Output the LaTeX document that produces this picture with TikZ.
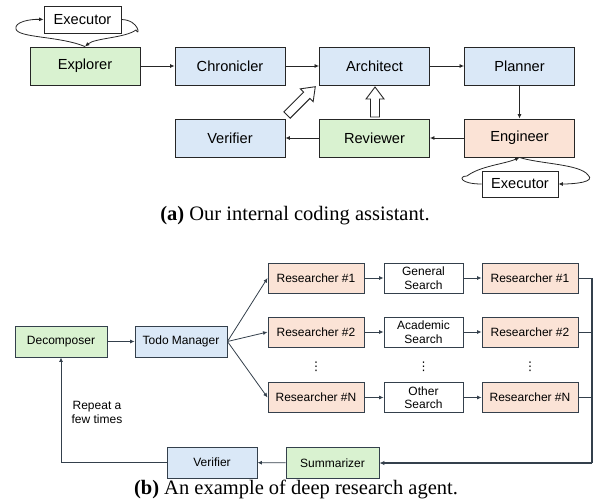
\documentclass[tikz,border=0pt]{standalone}
\usepackage{fontspec}
\setmainfont{Liberation Sans}
\newfontfamily\capfont{Liberation Serif}
\newfontfamily\symfont{DejaVu Sans}
\usetikzlibrary{arrows.meta,calc}
\definecolor{cgreen}{HTML}{D9F2D0}
\definecolor{cblue}{HTML}{DAE8F7}
\definecolor{corange}{HTML}{FBE3D6}
\definecolor{edgeA}{HTML}{262626}
\definecolor{edgeB}{HTML}{34404C}
\tikzset{
  boxA/.style={draw=edgeA,line width=0.9pt,minimum width=110pt,minimum height=38pt,inner sep=0pt,font=\fontsize{14.6}{16}\selectfont},
  boxB/.style={draw=edgeB,line width=0.9pt,minimum height=30pt,inner sep=0pt,align=center,font=\fontsize{12}{13.5}\selectfont},
  conn/.style={draw=edgeA,line width=0.8pt,-{Latex[length=4.5pt,width=4pt]}},
  connB/.style={draw=edgeB,line width=0.8pt,-{Latex[length=4.5pt,width=4pt]}},
  dotsnode/.style={font=\symfont\fontsize{12}{12}\selectfont,inner sep=0pt},
  pics/hollowarrow/.style={code={
    \draw[edgeA,fill=white,line width=0.9pt,line join=miter]
      (0,-4.5) -- (#1-12,-4.5) -- (#1-12,-9) -- (#1,0) -- (#1-12,9) -- (#1-12,4.5) -- (0,4.5) -- cycle;}},
  caption/.style={font=\capfont\fontsize{20.5}{22}\selectfont,anchor=base}
}
\begin{document}
\begin{tikzpicture}[x=1pt,y=-1pt]
\useasboundingbox (0,0) rectangle (594,503);
% ---------- (a) ----------
\node[boxA,fill=cgreen] (explorer) at (85,66) {Explorer};
\node[boxA,fill=cblue] (chron) at (230,66) {Chronicler};
\node[boxA,fill=cblue] (arch) at (374.5,66) {Architect};
\node[boxA,fill=cblue] (plan) at (519.5,66) {Planner};
\node[boxA,fill=cblue] (verA) at (230,138) {Verifier};
\node[boxA,fill=cgreen] (rev) at (374.5,138) {Reviewer};
\node[boxA,fill=corange] (eng) at (519.5,138) {Engineer};
\node[boxA,fill=white,minimum width=77pt,minimum height=27pt] (exeA) at (82.5,19.5) {Executor};
\node[boxA,fill=white,minimum width=76pt,minimum height=26pt] (exeB) at (520,184) {Executor};

\draw[conn] (explorer) -- (chron);
\draw[conn] (chron) -- (arch);
\draw[conn] (arch) -- (plan);
\draw[conn] (plan) -- (eng);
\draw[conn] (eng) -- (rev);
\draw[conn] (rev) -- (verA);

\coordinate (la) at (16,29);
\coordinate (ra) at (136,30);
\draw[conn] (explorer.north) .. controls (60,36) and (18,38) .. (la) .. controls (14,22) and (30,19) .. (exeA.west);
\draw[conn] (exeA.east) .. controls (140,20) and (140,38) .. (ra) .. controls (125,38) and (95,38) .. (explorer.north);

\coordinate (lb) at (467,176);
\coordinate (rb) at (588,175);
\draw[conn] (exeB.west) .. controls (460,184) and (458,176) .. (lb) .. controls (480,166) and (505,164) .. (eng.south);
\draw[conn] (eng.south) .. controls (540,164) and (580,164) .. (rb) .. controls (596,182) and (575,184) .. (exeB.east);

\pic[rotate=90] at (375,117) {hollowarrow=30};
\pic[rotate=45] at (287,115) {hollowarrow=40};

\node[caption] (capA) at (295,220) {\textbf{(a)} Our internal coding assistant.};

% ---------- (b) ----------
\node[boxB,fill=cgreen,minimum width=92pt,minimum height=31pt] (dec) at (61,341.5) {Decomposer};
\node[boxB,fill=cblue,minimum width=92pt,minimum height=31pt] (todo) at (181,341.5) {Todo Manager};

\node[boxB,fill=corange,minimum width=96pt] (r1l) at (316,278) {Researcher \#1};
\node[boxB,fill=corange,minimum width=96pt] (r2l) at (316,332) {Researcher \#2};
\node[boxB,fill=corange,minimum width=96pt] (rnl) at (316,397.5) {Researcher \#N};
\node[boxB,fill=white,minimum width=79pt] (gs) at (423.5,278) {General\\Search};
\node[boxB,fill=white,minimum width=79pt] (as) at (423.5,332) {Academic\\Search};
\node[boxB,fill=white,minimum width=79pt] (os) at (423.5,397.5) {Other\\Search};
\node[boxB,fill=corange,minimum width=96pt] (r1r) at (530,278) {Researcher \#1};
\node[boxB,fill=corange,minimum width=96pt] (r2r) at (530,332) {Researcher \#2};
\node[boxB,fill=corange,minimum width=96pt] (rnr) at (530,397.5) {Researcher \#N};

\node[dotsnode] (d1) at (316,366.5) {⋮};
\node[dotsnode] (d2) at (423.5,366.5) {⋮};
\node[dotsnode] (d3) at (530,366.5) {⋮};

\node[boxB,fill=cgreen,minimum width=93pt,minimum height=31pt] (sum) at (332.5,463) {Summarizer};
\node[boxB,fill=cblue,minimum width=90pt,minimum height=31pt] (verB) at (212,462.5) {Verifier};

\node[align=center,font=\fontsize{12}{13.5}\selectfont] (rep) at (97,412.5) {Repeat a\\few times};

\draw[connB] (dec) -- (todo);
\draw[connB] (todo.east) -- (r1l.west);
\draw[connB] (todo.east) -- (r2l.west);
\draw[connB] (todo.east) -- (rnl.west);
\draw[connB] (r1l) -- (gs);
\draw[connB] (r2l) -- (as);
\draw[connB] (rnl) -- (os);
\draw[connB] (gs) -- (r1r);
\draw[connB] (as) -- (r2r);
\draw[connB] (os) -- (rnr);

\coordinate (mtop) at (592,278);
\coordinate (mbot) at (592,463);
\draw[edgeB,line width=0.8pt] (r1r.east) -- (mtop);
\draw[edgeB,line width=0.8pt] (r2r.east) -- (r2r.east -| mtop);
\draw[edgeB,line width=0.8pt] (rnr.east) -- (rnr.east -| mtop);
\draw[edgeB,line width=1.3pt] (mtop) -- (mbot);
\draw[edgeB,line width=2pt,-{Latex[length=5pt,width=4.5pt]}] (mbot) -- (sum.east);
\draw[connB] (sum) -- (verB);
\draw[connB,line width=1pt] (verB.west) -| (dec.south);

\node[caption] (capB) at (296,494) {\textbf{(b)} An example of deep research agent.};
\end{tikzpicture}
\end{document}
